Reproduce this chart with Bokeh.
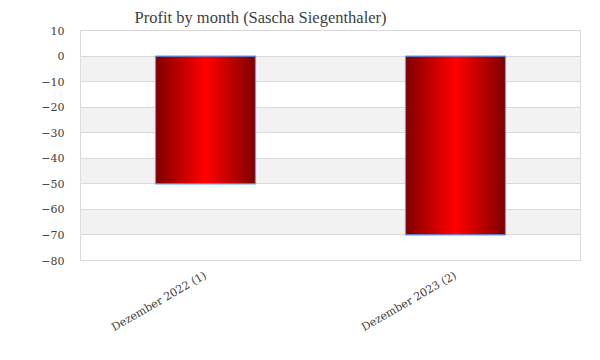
from bokeh.plotting import figure
from bokeh.models import FixedTicker, Title
from bokeh.embed import file_html
from bokeh.resources import INLINE
import math

categories = ["Dezember 2022 (1)", "Dezember 2023 (2)"]
profit = [-50, -70]
y_ticks = [-80, -70, -60, -50, -40, -30, -20, -10, 0, 10]

FONT = "DejaVu Serif"
TXT = "#404040"

p = figure(x_range=categories, y_range=(-80, 10), width=592, height=352,
           output_backend="svg", toolbar_location=None,
           min_border_left=80, min_border_right=12, min_border_top=30, min_border_bottom=92)

t = Title(text="Profit by month  (Sascha Siegenthaler)", align="left", offset=54,
          text_font="Liberation Serif", text_font_size="16.5px", text_font_style="normal",
          text_color=TXT, standoff=7)
p.add_layout(t, "above")

# horizontal gradient (dark edges, bright center) via nested bars
N = 50
bw = 0.4
def lerp(a, b, f):
    return int(round(a + (b - a) * f))
for k in range(N):
    f = k / (N - 1)          # 0 outermost, 1 innermost
    w = bw * (1 - k / N)
    col = "#%02x%02x%02x" % (lerp(0x80, 0xff, f), 0, 0)
    p.vbar(x=categories, top=0, bottom=profit, width=w, fill_color=col, line_color=None)
p.vbar(x=categories, top=0, bottom=profit, width=bw, fill_alpha=0,
       line_color="#4da3ff", line_width=1.2)

p.yaxis.ticker = FixedTicker(ticks=y_ticks)
p.ygrid.grid_line_color = "#d9d9d9"
p.ygrid.band_fill_color = "#f2f2f2"
p.ygrid.band_fill_alpha = 1
p.xgrid.grid_line_color = None

for ax in (p.xaxis, p.yaxis):
    ax.axis_line_color = None
    ax.major_tick_line_color = None
    ax.minor_tick_line_color = None
    ax.major_label_text_font = FONT
    ax.major_label_text_font_size = "11px"
    ax.major_label_text_color = TXT
p.yaxis.major_label_standoff = 10
p.xaxis.major_label_standoff = 8
p.xaxis.major_label_orientation = math.pi / 6

p.outline_line_color = "#d9d9d9"
p.outline_line_width = 1
p.background_fill_color = "white"
p.border_fill_color = "white"

open("out.html", "w").write(file_html(p, INLINE))
